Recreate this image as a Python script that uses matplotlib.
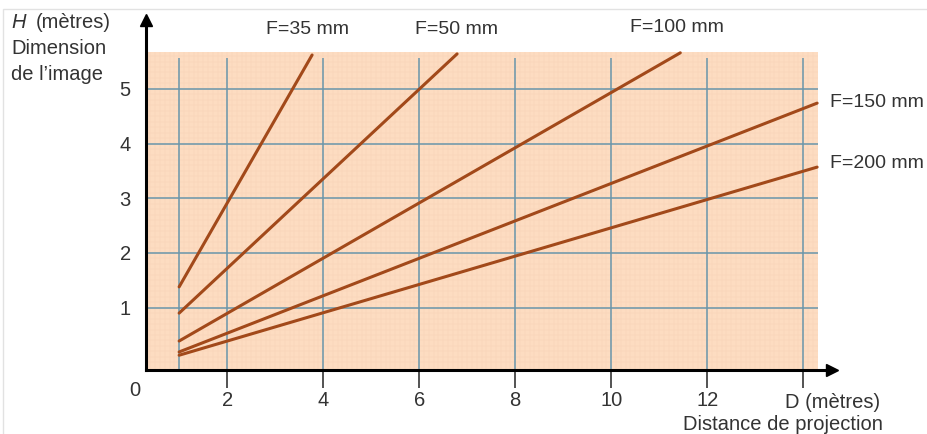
import numpy as np
import matplotlib.pyplot as plt
from matplotlib.patches import Rectangle

plt.rcParams['font.family'] = ['Liberation Sans', 'DejaVu Sans']

# focal lengths and the straight lines H = f(D)
focal_labels = ["F=35 mm", "F=50 mm", "F=100 mm", "F=150 mm", "F=200 mm"]
d_start = [1.0, 1.0, 1.0, 1.0, 1.0]
d_end = [3.77, 6.79, 11.44, 14.29, 14.29]
h_start = [1.38, 0.90, 0.39, 0.19, 0.13]
h_end = [5.62, 5.64, 5.66, 4.74, 3.57]

x_ticks = [2, 4, 6, 8, 10, 12, 14]
x_tick_labels = ["2", "4", "6", "8", "10", "12", ""]
y_ticks = [1, 2, 3, 4, 5]

# plot limits (axes arrows) and the orange paper area
x_min, x_max = 0.31, 14.6
y_min, y_max = -0.14, 6.26
paper_right, paper_top = 14.3, 5.67

paper_color = '#fddcc1'
fine_color = '#f8d3b6'
grid_color = '#6a96ab'
line_color = '#a2491a'
text_color = '#333333'

fig = plt.figure(figsize=(9.27, 4.34), dpi=100)
ax = fig.add_axes([146 / 927, 64 / 434, 686 / 927, 350 / 434])
ax.set_xlim(x_min, x_max)
ax.set_ylim(y_min, y_max)
ax.patch.set_alpha(0)

# faint frame of the original picture
fig.patches.append(Rectangle((3 / 927, -0.1), 1.2, (434 - 9) / 434 + 0.1,
                             transform=fig.transFigure, fill=False,
                             edgecolor='#e2e2e2', linewidth=1))

# orange graph paper
ax.add_patch(Rectangle((x_min, y_min), paper_right - x_min, paper_top - y_min,
                       facecolor=paper_color, edgecolor='none', zorder=0))
fine_x = np.arange(0.4, paper_right, 0.1)
fine_y = np.arange(0.0, paper_top, 0.1)
ax.vlines(fine_x, y_min, paper_top, color=fine_color, linewidth=0.35, zorder=0.5)
ax.hlines(fine_y, x_min, paper_right, color=fine_color, linewidth=0.35, zorder=0.5)

# main grid
ax.vlines([1] + x_ticks, y_min, paper_top - 0.1, color=grid_color, linewidth=1.1, zorder=1)
ax.hlines(y_ticks, x_min, paper_right, color=grid_color, linewidth=1.1, zorder=1)

# the lines
for i in range(len(focal_labels)):
    ax.plot([d_start[i], d_end[i]], [h_start[i], h_end[i]],
            color=line_color, linewidth=2.2, solid_capstyle='round', zorder=3)

# curve labels
ax.text(3.67, 6.08, focal_labels[0], fontsize=14, color=text_color, ha='center', va='center')
ax.text(6.77, 6.08, focal_labels[1], fontsize=14, color=text_color, ha='center', va='center')
ax.text(11.37, 6.13, focal_labels[2], fontsize=14, color=text_color, ha='center', va='center')
ax.text(14.55, 4.76, focal_labels[3], fontsize=14, color=text_color, ha='left', va='center',
        clip_on=False)
ax.text(14.55, 3.63, focal_labels[4], fontsize=14, color=text_color, ha='left', va='center',
        clip_on=False)

# axes with arrows
for side in ['top', 'right']:
    ax.spines[side].set_visible(False)
ax.spines['left'].set_linewidth(2.2)
ax.spines['bottom'].set_linewidth(2.2)
ax.spines['left'].set_zorder(4)
ax.spines['bottom'].set_zorder(4)
ax.plot(1, 0, '>k', markersize=9, transform=ax.transAxes, clip_on=False)
ax.plot(0, 1, '^k', markersize=9, transform=ax.transAxes, clip_on=False)

ax.set_xticks(x_ticks)
ax.set_xticklabels(x_tick_labels)
ax.tick_params(axis='x', direction='out', length=13, width=1.3, color='#444444',
               pad=2, labelsize=14.5, labelcolor=text_color)
ax.set_yticks(y_ticks)
ax.tick_params(axis='y', length=0, pad=11, labelsize=14.5, labelcolor=text_color)

# axis titles
ax.text(0.08, -0.52, "0", fontsize=14.5, color=text_color, ha='center', va='center', clip_on=False)
fig.text(11 / 927, 1 - 22 / 434, "H", fontsize=14.5, style='italic', color=text_color,
         ha='left', va='center')
fig.text(36 / 927, 1 - 22 / 434, "(mètres)", fontsize=14.5, color=text_color, ha='left', va='center')
fig.text(11 / 927, 1 - 49 / 434, "Dimension", fontsize=14.5, color=text_color, ha='left', va='center')
fig.text(11 / 927, 1 - 75 / 434, "de l’image", fontsize=14.5, color=text_color, ha='left', va='center')
fig.text(785 / 927, 1 - 402 / 434, "D (mètres)", fontsize=14.5, color=text_color, ha='left', va='center')
fig.text(883 / 927, 1 - 425 / 434, "Distance de projection", fontsize=14.5, color=text_color,
         ha='right', va='center')

plt.savefig('out.png', dpi=100)
